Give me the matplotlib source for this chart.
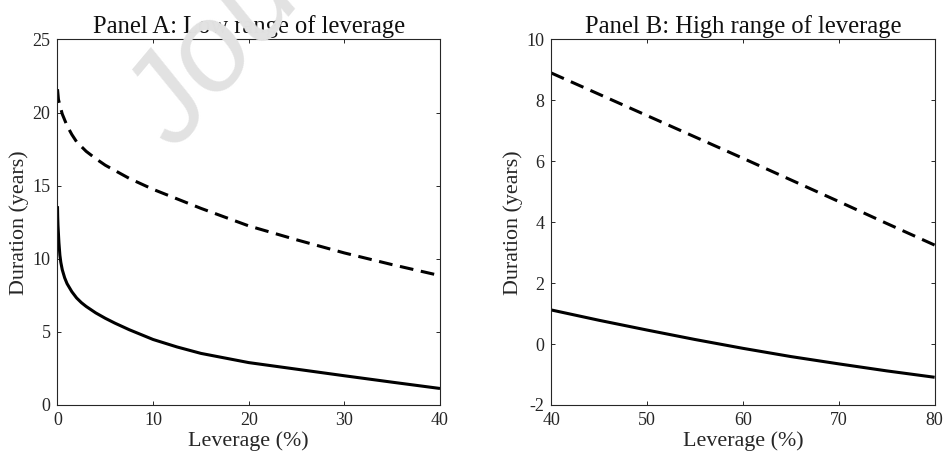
import matplotlib
matplotlib.use("Agg")
import matplotlib.pyplot as plt

# --- data ---
lev_a_solid = [0, 0.02, 0.05, 0.1, 0.15, 0.25, 0.35, 0.5, 0.75, 1, 1.5, 2, 2.5, 3, 4, 5, 6, 7.5,
               10, 12.5, 15, 20, 25, 30, 35, 40]
dur_a_solid = [13.6, 12.9, 12.3, 11.7, 11.1, 10.25, 9.75, 9.25, 8.7, 8.3, 7.75, 7.32, 7.0, 6.74,
               6.3, 5.93, 5.6, 5.15, 4.48, 3.97, 3.53, 2.9, 2.45, 2.0, 1.56, 1.13]

lev_a_dash = [0, 0.1, 0.25, 0.5, 1, 1.5, 2, 3, 4, 5, 7.5, 10, 12.5, 15, 20, 25, 30, 35, 40]
dur_a_dash = [21.6, 20.9, 20.5, 19.9, 19.1, 18.5, 18.0, 17.35, 16.85, 16.4, 15.5, 14.75, 14.1,
              13.45, 12.25, 11.3, 10.4, 9.6, 8.85]

lev_b = [40, 45, 50, 55, 60, 65, 70, 75, 80]
dur_b_solid = [1.12, 0.78, 0.46, 0.15, -0.14, -0.41, -0.65, -0.88, -1.09]
dur_b_dash = [8.9, 8.2, 7.5, 6.8, 6.1, 5.39, 4.68, 3.96, 3.25]

titles = ['Panel A: Low range of leverage', 'Panel B: High range of leverage']
xticks_a = [0, 10, 20, 30, 40]
yticks_a = [0, 5, 10, 15, 20, 25]
xticks_b = [40, 50, 60, 70, 80]
yticks_b = [-2, 0, 2, 4, 6, 8, 10]

# --- style ---
plt.rcParams['font.family'] = ['Liberation Serif', 'DejaVu Serif']
plt.rcParams['axes.unicode_minus'] = False
AX_COLOR = '#262626'
DASH = (0, (4.5, 2.5))

fig = plt.figure(figsize=(9.44, 4.55), dpi=100)
ax_a = fig.add_axes([0.0609, 0.1099, 0.4052, 0.8033])
ax_b = fig.add_axes([0.5840, 0.1099, 0.4061, 0.8033])


def style_axes(ax, title, xticks, yticks):
    ax.set_xlim(xticks[0], xticks[-1])
    ax.set_ylim(yticks[0], yticks[-1])
    ax.set_xticks(xticks)
    ax.set_yticks(yticks)
    ax.tick_params(direction='in', top=True, right=True, length=3, width=0.7,
                   color=AX_COLOR, labelcolor=AX_COLOR, labelsize=13, pad=5)
    for s in ax.spines.values():
        s.set_color(AX_COLOR)
        s.set_linewidth(0.8)
    ax.set_xlabel('Leverage (%)', fontsize=15.8, color=AX_COLOR, labelpad=1.5)
    ax.set_ylabel('Duration (years)', fontsize=15.8, color=AX_COLOR, labelpad=2.5)
    ax.set_title(title, fontsize=17.7, color='#111111', pad=5)


ax_a.plot(lev_a_solid, dur_a_solid, color='black', lw=2.2, solid_capstyle='butt')
ax_a.plot(lev_a_dash, dur_a_dash, color='black', lw=2.2, linestyle=DASH)
style_axes(ax_a, titles[0], xticks_a, yticks_a)

ax_b.plot(lev_b, dur_b_solid, color='black', lw=2.2, solid_capstyle='butt')
ax_b.plot(lev_b, dur_b_dash, color='black', lw=2.2, linestyle=DASH)
style_axes(ax_b, titles[1], xticks_b, yticks_b)

# faint page watermark
fig.text(0.1864, 0.6681, 'Journal Pre-proof', fontsize=90, color='#e2e2e2',
         family='Liberation Sans', style='italic', rotation=50, rotation_mode='anchor',
         ha='left', va='baseline', zorder=10)

fig.savefig('out.png', dpi=100)
